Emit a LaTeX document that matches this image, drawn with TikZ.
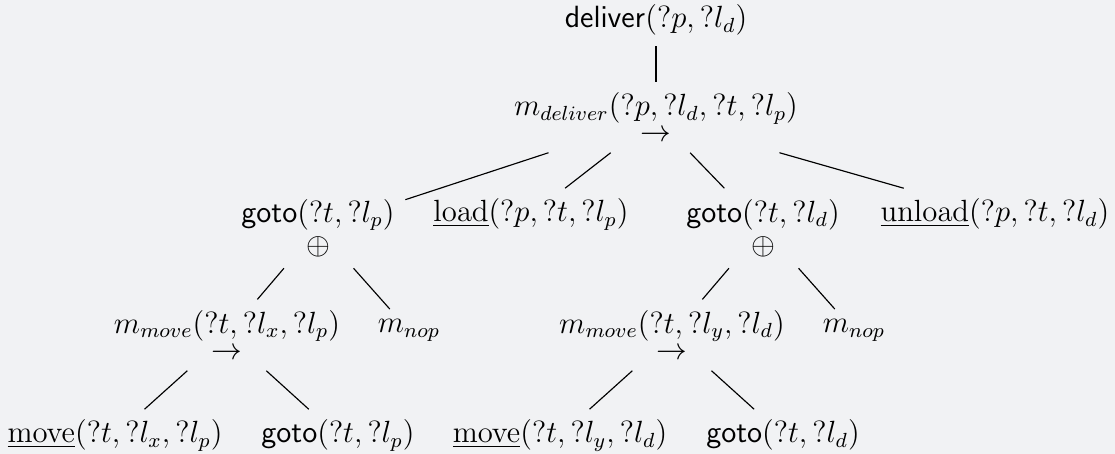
\documentclass[12pt,tikz,border=0pt]{standalone}
\definecolor{bg}{RGB}{241,242,244}
\begin{document}
\begin{tikzpicture}[x=0.391pt,y=-0.391pt,
  tn/.style={align=center,anchor=base},
  edge/.style={draw=black,line width=0.45pt}]
\fill[bg] (0,0) rectangle (1115,454);
\useasboundingbox (0,0) rectangle (1115,454);
% level 0
\node[tn] (root) at (656,28) {$\mathsf{deliver}(?p, ?l_d)$};
% level 1 (base = baseline of the operator line)
\node[tn] (md) at (656,142) {$m_{deliver}(?p, ?l_d, ?t, ?l_p)$\\[-4.3pt]$\rightarrow$};
% level 2
\node[tn] (gp) at (318,255) {$\mathsf{goto}(?t, ?l_p)$\\[-1.6pt]$\oplus$};
\node[tn] (ld) at (531,222) {$\underline{\mathrm{load}}(?p, ?t, ?l_p)$};
\node[tn] (gd) at (763,255) {$\mathsf{goto}(?t, ?l_d)$\\[-1.6pt]$\oplus$};
\node[tn] (ul) at (995,222) {$\underline{\mathrm{unload}}(?p, ?t, ?l_d)$};
% level 3
\node[tn] (mp) at (227,360) {$m_{move}(?t, ?l_x, ?l_p)$\\[-4pt]$\rightarrow$};
\node[tn] (n1) at (409,333) {$m_{nop}$};
\node[tn] (mq) at (672,360) {$m_{move}(?t, ?l_y, ?l_d)$\\[-4pt]$\rightarrow$};
\node[tn] (n2) at (854,333) {$m_{nop}$};
% level 4
\node[tn] (mx) at (115,443) {$\underline{\mathrm{move}}(?t, ?l_x, ?l_p)$};
\node[tn] (g2) at (338,443) {$\mathsf{goto}(?t, ?l_p)$};
\node[tn] (my) at (560,443) {$\underline{\mathrm{move}}(?t, ?l_y, ?l_d)$};
\node[tn] (g3) at (783,443) {$\mathsf{goto}(?t, ?l_d)$};
% edges
\draw[edge] (root) -- (md);
\draw[edge] (md) -- (gp);
\draw[edge] (md) -- (ld);
\draw[edge] (md) -- (gd);
\draw[edge] (md) -- (ul);
\draw[edge] (gp) -- (mp);
\draw[edge] (gp) -- (n1);
\draw[edge] (gd) -- (mq);
\draw[edge] (gd) -- (n2);
\draw[edge] (mp) -- (mx);
\draw[edge] (mp) -- (g2);
\draw[edge] (mq) -- (my);
\draw[edge] (mq) -- (g3);
\end{tikzpicture}
\end{document}
